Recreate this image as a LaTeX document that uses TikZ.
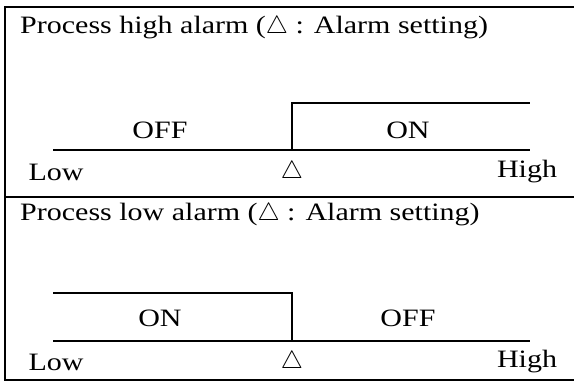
\documentclass[tikz,border=0pt]{standalone}
\usepackage{fontspec}
\setmainfont[FakeStretch=1.2]{Liberation Serif}
\usetikzlibrary{positioning}

\begin{document}
\begin{tikzpicture}[x=1pt,y=-1pt,
   every node/.style={font=\fontsize{25}{29}\selectfont, inner sep=0pt},
   frame/.style={line width=2pt},
   level/.style={line width=1.6pt}]
   \useasboundingbox (0,0) rectangle (574,386);
   % frame
   \draw[frame] (574,7) -- (5,7) -- (5,380) -- (574,380);
   \draw[frame] (5,197) -- (574,197);

   % high alarm
   \draw (20,28) node[anchor=west] (title1) {Process high alarm ($\triangle$ : Alarm setting)};
   \draw (160,130) node (off1) {OFF};
   \draw (408,130) node (on1) {ON};
   \draw (56,172) node (low1) {Low};
   \draw (292,172) node (set1) {$\triangle$};
   \draw (527,172) node (high1) {High};
   \coordinate (a1) at (53,150);
   \coordinate (b1) at (292,150);
   \coordinate (c1) at (292,103);
   \coordinate (d1) at (530,103);
   \coordinate (e1) at (530,150);
   \draw[level] (a1) -- (e1);
   \draw[level] (b1) -- (c1) -- (d1);

   % low alarm
   \draw (20,215) node[anchor=west] (title2) {Process low alarm ($\triangle$ : Alarm setting)};
   \draw (160,318) node (on2) {ON};
   \draw (408,318) node (off2) {OFF};
   \draw (56,362) node (low2) {Low};
   \draw (292,362) node (set2) {$\triangle$};
   \draw (527,362) node (high2) {High};
   \coordinate (a2) at (53,293);
   \coordinate (b2) at (292,293);
   \coordinate (c2) at (292,341);
   \coordinate (d2) at (53,341);
   \coordinate (e2) at (530,341);
   \draw[level] (a2) -- (b2) -- (c2);
   \draw[level] (d2) -- (e2);
\end{tikzpicture}
\end{document}
